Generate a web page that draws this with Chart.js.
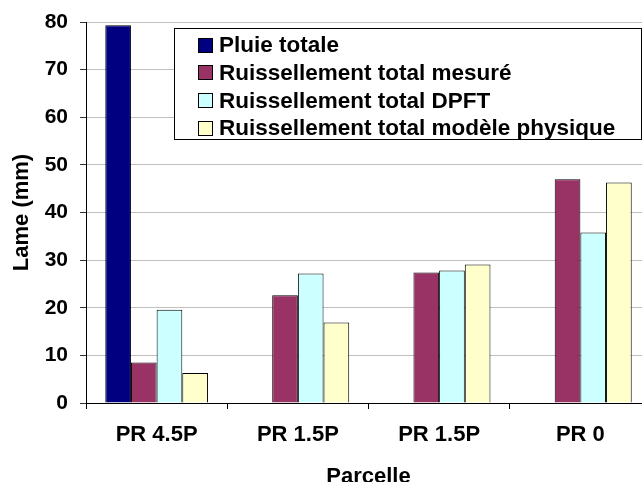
<!DOCTYPE html>
<html>
<head>
<meta charset="utf-8">
<script src="https://cdn.jsdelivr.net/npm/chart.js@4.4.1/dist/chart.umd.min.js"></script>
<style>
  html, body { margin: 0; padding: 0; background: #fff; overflow: hidden; }
  #wrap { width: 642px; height: 482px; overflow: hidden; }
  canvas { display: block; }
</style>
</head>
<body>
<div id="wrap"><canvas id="chart" width="660" height="490"></canvas></div>
<script>
// Données
const parcelles = ['PR 4.5P', 'PR 1.5P', 'PR 1.5P', 'PR 0'];
const pluieTotale = [79.3, null, null, null];
const ruissMesure = [8.5, 22.6, 27.4, 47.0];
const ruissDPFT = [19.6, 27.2, 27.8, 35.8];
const ruissModele = [6.3, 16.9, 29.1, 46.3];
const yTicks = [0, 10, 20, 30, 40, 50, 60, 70, 80];

const FONT = 'Arial, "Liberation Sans", sans-serif';

// Légende dessinée à la main dans un cadre (comme Excel)
const boxLegend = {
    id: 'boxLegend',
    afterDraw(chart) {
        const ctx = chart.ctx;
        const x0 = 174, y0 = 28, w = 467, h = 111;
        ctx.save();
        ctx.fillStyle = '#fff';
        ctx.fillRect(x0, y0, w, h);
        ctx.strokeStyle = '#000';
        ctx.lineWidth = 1;
        ctx.strokeRect(x0 + 0.5, y0 + 0.5, w, h);
        ctx.font = 'bold 22.5px ' + FONT;
        ctx.textBaseline = 'middle';
        chart.data.datasets.forEach((ds, i) => {
            const cy = 45 + i * 27.7;
            ctx.fillStyle = ds.backgroundColor;
            ctx.fillRect(198, Math.round(cy - 7.5), 15, 15);
            ctx.strokeStyle = '#000';
            ctx.strokeRect(198.5, Math.round(cy - 7.5) + 0.5, 14, 14);
            ctx.fillStyle = '#000';
            ctx.fillText(ds.label, 219, cy + 1);
        });
        ctx.restore();
    }
};

const ctx = document.getElementById('chart').getContext('2d');
const chart = new Chart(ctx, {
    type: 'bar',
    data: {
        labels: parcelles,
        datasets: [
            { label: 'Pluie totale', data: pluieTotale, backgroundColor: '#000080' },
            { label: 'Ruissellement total mesuré', data: ruissMesure, backgroundColor: '#993366' },
            { label: 'Ruissellement total DPFT', data: ruissDPFT, backgroundColor: '#CCFFFF' },
            { label: 'Ruissellement total modèle physique', data: ruissModele, backgroundColor: '#FFFFCC' }
        ].map(d => Object.assign(d, {
            borderColor: '#000',
            borderWidth: 1,
            categoryPercentage: 0.727,
            barPercentage: 1.0
        }))
    },
    options: {
        responsive: false,
        animation: false,
        devicePixelRatio: 1,
        layout: { padding: { top: 22, right: 9, left: 0, bottom: 0 } },
        plugins: {
            legend: { display: false },
            tooltip: { enabled: false }
        },
        scales: {
            x: {
                offset: true,
                grid: {
                    offset: true,
                    drawOnChartArea: false,
                    drawTicks: true,
                    tickLength: 6,
                    tickColor: '#000'
                },
                border: { color: '#000', width: 1 },
                ticks: {
                    color: '#000',
                    font: { family: FONT, size: 22, weight: 'bold' },
                    padding: 13,
                    maxRotation: 0
                },
                title: {
                    display: true,
                    text: 'Parcelle',
                    color: '#000',
                    font: { family: FONT, size: 22, weight: 'bold' },
                    padding: { top: 0, bottom: 0 }
                },
                afterFit(scale) { scale.height = 87; }
            },
            y: {
                min: 0,
                max: 80,
                afterBuildTicks(scale) { scale.ticks = yTicks.map(v => ({ value: v })); },
                grid: {
                    color: '#c0c0c0',
                    tickColor: '#333',
                    tickLength: 6
                },
                border: { color: '#000', width: 1 },
                ticks: {
                    color: '#000',
                    font: { family: FONT, size: 21, weight: 'bold', lineHeight: 0.9 },
                    padding: 12
                },
                title: {
                    display: true,
                    text: 'Lame (mm)',
                    color: '#000',
                    font: { family: FONT, size: 22, weight: 'bold' },
                    padding: { top: 9, bottom: 0 }
                },
                afterFit(scale) { scale.width = 86; }
            }
        }
    },
    plugins: [boxLegend]
});
</script>
</body>
</html>
